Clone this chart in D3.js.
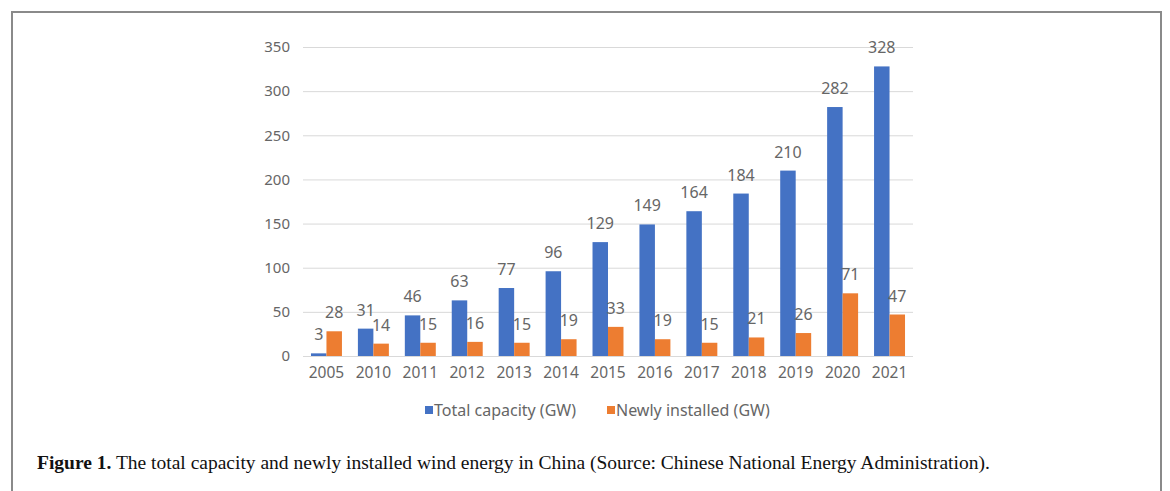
<!DOCTYPE html>
<html lang="en">
<head>
  <meta charset="UTF-8">
  <title>wind energy in China</title>
  <style>
    body { margin: 0; background: #fff; }
    .frame {
      position: absolute; left: 11px; top: 11px; width: 1151px; height: 500px;
      border: 2px solid #8a8a8a; border-bottom: none; box-sizing: border-box;
    }
    svg { position: absolute; left: 0; top: 0; }
    .caption { font-family: "Liberation Serif", serif; font-size: 19.5px; fill: #111; }
  </style>
</head>
<body>
  <div class="frame"></div>
  <svg id="chart" width="1170" height="491"></svg>
  <script src="https://cdnjs.cloudflare.com/ajax/libs/d3/7.8.5/d3.min.js"></script>
  <script>
    'use strict';

    const years = ['2005', '2010', '2011', '2012', '2013', '2014', '2015', '2016', '2017', '2018', '2019', '2020', '2021'];
    const totalCapacity = [3, 31, 46, 63, 77, 96, 129, 149, 164, 184, 210, 282, 328];
    const newlyInstalled = [28, 14, 15, 16, 15, 19, 33, 19, 15, 21, 26, 71, 47];
    const yTicks = [0, 50, 100, 150, 200, 250, 300, 350];
    const seriesNames = ['Total capacity (GW)', 'Newly installed (GW)'];
    const colors = ['#4472C4', '#ED7D31'];

    const svg = d3.select('#chart');
    const plotL = 303, plotR = 913, plotT = 47, plotB = 356;
    const font = '"Noto Sans", sans-serif';
    const grey = '#666';

    const x = d3.scaleBand().domain(years).range([plotL, plotR]).paddingInner(0.34).paddingOuter(0.17);
    const xs = d3.scaleBand().domain([0, 1]).range([0, x.bandwidth()]);
    const y = d3.scaleLinear().domain([0, 350]).range([plotB, plotT]);

    // grid + y labels
    const yAxis = svg.append('g').attr('transform', `translate(${plotR},0)`)
      .call(d3.axisLeft(y).tickValues(yTicks).tickSize(plotR - plotL).tickPadding(13));
    yAxis.select('.domain').remove();
    yAxis.selectAll('line').attr('stroke', '#d9d9d9').attr('stroke-width', 1);
    yAxis.selectAll('text').attr('fill', grey).style('font-family', font).style('font-size', '15px');

    // x labels
    const xAxis = svg.append('g').attr('transform', `translate(0,${plotB})`)
      .call(d3.axisBottom(x).tickSize(0).tickPadding(11));
    xAxis.select('.domain').remove();
    xAxis.selectAll('text').attr('fill', grey).style('font-family', font).style('font-size', '15.5px');

    const series = [totalCapacity, newlyInstalled];
    series.forEach((vals, s) => {
      const g = svg.append('g');
      g.selectAll('rect').data(vals).enter().append('rect')
        .attr('x', (d, i) => x(years[i]) + xs(s))
        .attr('width', xs.bandwidth())
        .attr('y', d => y(d))
        .attr('height', d => y(0) - y(d))
        .attr('fill', colors[s]);
      g.selectAll('text').data(vals).enter().append('text')
        .attr('x', (d, i) => x(years[i]) + xs(s) + xs.bandwidth() / 2)
        .attr('y', d => y(d) - 13)
        .attr('text-anchor', 'middle')
        .attr('fill', grey)
        .style('font-family', font).style('font-size', '16px')
        .text(d => d);
    });

    // legend
    const legendX = [425, 607];
    seriesNames.forEach((name, s) => {
      svg.append('rect').attr('x', legendX[s]).attr('y', 406).attr('width', 8).attr('height', 8).attr('fill', colors[s]);
      svg.append('text').attr('x', legendX[s] + 9).attr('y', 416)
        .attr('fill', grey).style('font-family', font).style('font-size', '16px').text(name);
    });

    // caption
    const cap = svg.append('text').attr('class', 'caption').attr('x', 37).attr('y', 469);
    cap.append('tspan').attr('font-weight', 'bold').text('Figure 1.');
    cap.append('tspan').text(' The total capacity and newly installed wind energy in China (Source: Chinese National Energy Administration).');
  </script>
</body>
</html>
